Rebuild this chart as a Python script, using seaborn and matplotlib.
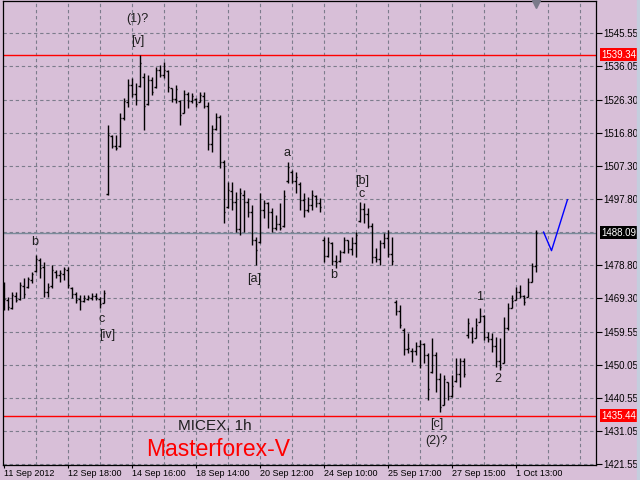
# MICEX 1h bar chart with wave marks, drawn like the terminal screenshot
import numpy as np
import pandas as pd
import matplotlib
matplotlib.use("Agg")
import matplotlib.pyplot as plt
import matplotlib.transforms as mtransforms
import seaborn as sns

# hourly bars
bar_high = [1473.9, 1469.6, 1471.0, 1471.0, 1473.9, 1475.0, 1475.3, 1476.8, 1481.6, 1480.8,
            1479.6, 1473.6, 1478.8, 1477.3, 1477.3, 1478.2, 1478.2, 1472.4, 1471.0, 1470.1,
            1470.1, 1470.1, 1470.7, 1470.7, 1469.6, 1471.6,
            1519.1, 1516.2, 1516.2, 1522.5, 1526.8, 1532.3, 1532.6, 1531.2, 1539.2, 1534.0,
            1533.5, 1532.9, 1535.8, 1536.3, 1537.2, 1534.9, 1529.7, 1530.6, 1526.3, 1529.1,
            1528.6, 1528.3, 1526.8, 1528.6, 1528.6, 1525.7, 1519.1, 1522.5, 1521.9, 1509.0,
            1502.7,
            1502.7, 1499.8, 1500.9, 1500.4, 1498.1, 1496.0, 1486.8, 1499.5, 1497.5, 1496.9,
            1495.2, 1493.2, 1496.6, 1500.4, 1508.4, 1506.1, 1505.5, 1502.7, 1499.5, 1498.3,
            1500.4, 1498.9, 1498.1,
            1486.8, 1486.8, 1485.4, 1481.6, 1483.1, 1486.8, 1486.0, 1486.8, 1488.3, 1496.9,
            1496.6, 1495.2, 1490.9, 1483.7, 1486.0, 1488.0, 1488.8, 1486.8,
            1468.7, 1467.2, 1460.6, 1459.2, 1454.9, 1456.6, 1457.2, 1456.3, 1453.4, 1457.8,
            1453.7, 1447.7, 1447.1, 1445.1, 1447.1, 1452.0, 1452.0, 1452.0,
            1463.5, 1460.9, 1463.5, 1466.4, 1464.4, 1459.5, 1459.2, 1458.0, 1457.8, 1463.8,
            1467.8, 1470.1, 1472.4, 1473.0, 1470.1, 1475.0, 1479.3, 1488.8]
bar_low = [1465.8, 1465.8, 1466.1, 1468.1, 1468.7, 1469.3, 1472.1, 1473.6, 1476.8, 1475.0,
           1469.6, 1469.6, 1472.1, 1475.0, 1473.9, 1474.4, 1472.1, 1469.3, 1467.8, 1465.8,
           1468.1, 1468.7, 1468.7, 1468.7, 1466.4, 1467.8,
           1498.9, 1512.4, 1511.9, 1512.7, 1520.5, 1524.2, 1527.1, 1524.8, 1530.0, 1517.6,
           1524.8, 1527.7, 1529.7, 1532.9, 1532.6, 1528.6, 1525.7, 1525.4, 1519.1, 1522.5,
           1524.0, 1525.4, 1524.2, 1525.7, 1524.0, 1511.9, 1511.3, 1517.6, 1506.7, 1490.9,
           1495.2,
           1494.6, 1488.3, 1487.4, 1488.3, 1492.6, 1484.5, 1478.8, 1485.1, 1492.3, 1489.4,
           1488.3, 1488.8, 1488.8, 1489.7, 1502.4, 1502.4, 1499.5, 1494.6, 1492.6, 1494.0,
           1494.6, 1495.5, 1494.0,
           1479.6, 1481.1, 1478.8, 1477.9, 1479.6, 1482.2, 1482.2, 1481.6, 1481.1, 1491.1,
           1490.9, 1489.4, 1479.3, 1479.6, 1478.8, 1483.7, 1481.1, 1478.8,
           1464.4, 1460.6, 1452.9, 1453.4, 1450.8, 1452.9, 1449.1, 1450.6, 1439.9, 1447.7,
           1442.2, 1436.4, 1438.5, 1439.9, 1440.8, 1445.1, 1443.6, 1446.5,
           1457.8, 1456.3, 1457.8, 1462.4, 1457.2, 1456.6, 1453.7, 1449.4, 1448.5, 1450.6,
           1460.1, 1466.4, 1468.7, 1469.3, 1467.2, 1469.6, 1473.9, 1476.8]
bar_open = [1470.0, 1468.7, 1466.5, 1469.8, 1469.0, 1472.7, 1472.4, 1474.4, 1477.0, 1480.3,
            1478.2, 1471.0, 1472.7, 1476.8, 1475.8, 1476.2, 1477.3, 1472.1, 1470.4, 1469.0,
            1468.4, 1469.0, 1469.3, 1469.8, 1469.0, 1467.8,
            1499.2, 1515.8, 1513.0, 1513.0, 1521.0, 1525.7, 1530.6, 1528.0, 1530.3, 1533.0,
            1525.0, 1532.0, 1530.0, 1535.0, 1533.5, 1534.5, 1529.7, 1526.5, 1526.0, 1522.5,
            1528.0, 1526.0, 1526.5, 1525.8, 1527.5, 1524.5, 1513.5, 1518.0, 1521.5, 1508.5,
            1495.5,
            1500.0, 1497.0, 1489.0, 1499.0, 1497.0, 1494.0, 1486.0, 1485.5, 1494.5, 1496.5,
            1494.0, 1489.5, 1490.5, 1490.0, 1503.0, 1505.5, 1503.0, 1502.0, 1497.5, 1494.5,
            1496.0, 1498.5, 1496.5,
            1486.0, 1481.5, 1485.0, 1480.0, 1479.8, 1482.5, 1486.0, 1483.5, 1485.0, 1491.5,
            1495.0, 1493.5, 1490.0, 1481.0, 1480.5, 1485.0, 1486.5, 1482.0,
            1468.0, 1465.5, 1460.0, 1454.5, 1454.0, 1454.0, 1455.5, 1456.0, 1453.0, 1448.0,
            1453.0, 1446.0, 1438.5, 1445.0, 1441.0, 1445.5, 1447.5, 1451.0,
            1458.5, 1459.5, 1457.8, 1462.5, 1464.0, 1458.0, 1457.5, 1455.5, 1451.0, 1450.6,
            1460.5, 1466.5, 1468.8, 1471.0, 1469.8, 1469.6, 1474.0, 1478.5]
bar_close = [1469.0, 1466.8, 1470.1, 1468.7, 1473.0, 1470.5, 1474.7, 1476.2, 1480.5, 1477.9,
             1471.0, 1472.4, 1477.3, 1476.0, 1476.5, 1477.6, 1473.0, 1470.4, 1468.7, 1468.4,
             1469.3, 1469.6, 1469.8, 1469.3, 1467.5, 1470.7,
             1516.2, 1513.0, 1512.4, 1521.0, 1526.0, 1530.6, 1528.0, 1526.3, 1537.0, 1524.5,
             1532.0, 1528.5, 1535.0, 1533.5, 1535.0, 1530.0, 1526.5, 1529.5, 1522.0, 1528.0,
             1526.0, 1527.4, 1525.0, 1527.7, 1524.6, 1513.5, 1518.0, 1521.5, 1508.5, 1494.0,
             1500.5,
             1497.0, 1489.0, 1499.5, 1497.0, 1494.0, 1486.0, 1483.0, 1494.5, 1496.5, 1494.0,
             1489.5, 1490.5, 1489.5, 1498.5, 1507.0, 1503.0, 1504.0, 1497.5, 1494.5, 1496.0,
             1499.0, 1496.5, 1495.5,
             1481.5, 1485.5, 1480.0, 1479.5, 1482.5, 1486.0, 1483.5, 1485.0, 1487.5, 1495.0,
             1493.5, 1490.0, 1481.0, 1480.5, 1485.0, 1486.5, 1482.0, 1480.0,
             1465.5, 1461.5, 1454.5, 1455.0, 1454.0, 1455.5, 1456.0, 1453.0, 1443.0, 1453.0,
             1446.0, 1438.0, 1446.0, 1441.0, 1444.0, 1447.5, 1451.0, 1447.5,
             1462.0, 1457.0, 1461.5, 1464.0, 1458.0, 1457.5, 1455.5, 1451.0, 1449.5, 1460.5,
             1466.5, 1468.5, 1471.0, 1469.8, 1468.0, 1474.0, 1478.5, 1488.09]

# axis texts
price_ticks = [1545.55, 1536.05, 1526.30, 1516.80, 1507.30, 1497.80, 1478.80,
               1469.30, 1459.55, 1450.05, 1440.55, 1431.05, 1421.55]
date_bars = [0, 16, 32, 48, 64, 80, 96, 112, 128]
date_labels = ["11 Sep 2012", "12 Sep 18:00", "14 Sep 16:00", "18 Sep 14:00",
               "20 Sep 12:00", "24 Sep 10:00", "25 Sep 17:00", "27 Sep 15:00",
               "1 Oct 13:00"]

# levels
level_high = 1539.34
level_low = 1435.44
last_price = 1488.09

# forecast path (blue)
proj_bar = [135, 137, 141]
proj_price = [1488.3, 1482.9, 1497.6]

# wave marks
wave_text = ["(1)?", "[v]", "b", "c", "[iv]", "[a]", "a", "[b]", "c", "b",
             "1", "2", "[c]", "(2)?"]
wave_bar = [33.4, 33.6, 7.9, 24.6, 25.9, 62.6, 70.9, 89.6, 89.6, 82.6,
            118.9, 123.6, 108.4, 108.1]
wave_price = [1549.6, 1543.2, 1485.4, 1463.2, 1458.6, 1474.7, 1511.0, 1502.9,
              1499.2, 1475.9, 1469.6, 1445.9, 1433.0, 1428.1]

bg = "#D8BFD8"
grid_col = "#7c7c8c"

sns.set_style("white")
plt.rcParams['font.family'] = ['Liberation Sans', 'DejaVu Sans']

fig = plt.figure(figsize=(6.4, 4.8), dpi=100, facecolor=bg)
# plot box: x 3..596 px, y 1..465 px from the top
ax = fig.add_axes([3 / 640, 15 / 480, 593 / 640, 464 / 480])
ax.set_facecolor(bg)

# grid
for p in price_ticks + [1488.30]:
    ax.axhline(p, color=grid_col, lw=0.8, ls=(0, (3, 2.5)), zorder=1)
for b in range(8, 148, 8):
    ax.axvline(b, color=grid_col, lw=0.8, ls=(0, (3, 2.5)), zorder=1)

# level lines
ax.axhline(level_high, color="red", lw=1.0, zorder=2)
ax.axhline(level_low, color="red", lw=1.0, zorder=2)
ax.axhline(last_price, color="#7a8a9a", lw=1.0, zorder=2)

# bars
x = np.arange(len(bar_high))
ax.vlines(x, bar_low, bar_high, color="black", lw=1.0, zorder=3)
ax.hlines(bar_open, x - 0.45, x, color="black", lw=1.0, zorder=3)
ax.hlines(bar_close, x, x + 0.45, color="black", lw=1.0, zorder=3)

# forecast
proj = pd.DataFrame({"bar": proj_bar, "price": proj_price})
sns.lineplot(data=proj, x="bar", y="price", ax=ax, color="blue", lw=1.0,
             sort=False, zorder=4)

# wave marks
for t, bx, py in zip(wave_text, wave_bar, wave_price):
    ax.text(bx, py, t, fontsize=9, color="#1e1e1e", ha="center", va="center", zorder=5)

ax.text(52.9, 1432.4, "MICEX, 1h", fontsize=11, color="#1e1e1e", ha="center", va="center")
ax.text(53.6, 1425.8, "Masterforex-V", fontsize=16.5, color="red", ha="center", va="center")

# chart shift marker
ax.plot([133], [1554.0], marker="v", color="#7a7a8a", ms=6, clip_on=False, zorder=6)

ax.set_xlim(-0.125, 148.125)
ax.set_ylim(1421.2, 1554.76)

ax.set_yticks(price_ticks)
ax.set_yticklabels([f"{p:.2f}" for p in price_ticks])
ax.yaxis.tick_right()
ax.tick_params(axis="y", direction="out", length=4, width=0.8, pad=1,
               labelsize=7, colors="black", right=True, left=False)
ax.set_xticks(date_bars)
ax.set_xticklabels(date_labels, ha="left")
ax.tick_params(axis="x", direction="out", length=2.5, width=0.8, pad=0.5,
               labelsize=6.5, colors="black", bottom=True)
ax.set_xlabel("")
ax.set_ylabel("")

for s in ax.spines.values():
    s.set_color("black")
    s.set_linewidth(0.9)

# price tags on the right
trans = mtransforms.blended_transform_factory(ax.transAxes, ax.transData)
for val, col in [(level_high, "red"), (last_price, "black"), (level_low, "red")]:
    ax.text(1.009, val, f"{val:.2f}", transform=trans, fontsize=7, color="white",
            ha="left", va="center", zorder=7,
            bbox=dict(boxstyle="square,pad=0.18", fc=col, ec="none"))

# window edge strip
fig.patches.append(plt.Rectangle((637 / 640, 0), 3 / 640, 1, transform=fig.transFigure,
                                 color="#c4cede", zorder=0))

fig.savefig("out.png", dpi=100, facecolor=bg)
